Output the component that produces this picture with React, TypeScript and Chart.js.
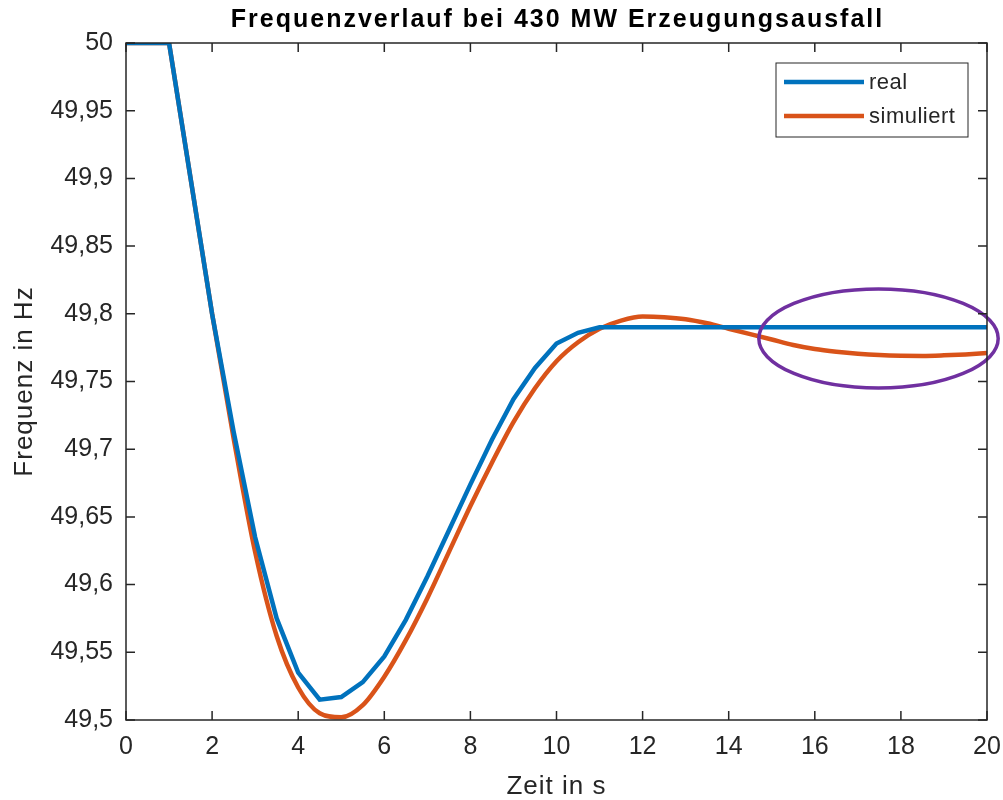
import React, { useEffect, useRef } from "react";
import { Chart, registerables } from "chart.js";

Chart.register(...registerables);

const TITLE = "Frequenzverlauf bei 430 MW Erzeugungsausfall";
const X_TITLE = "Zeit in s";
const Y_TITLE = "Frequenz in Hz";
const SERIES_NAMES = ["real", "simuliert"];

const timeReal = [0, 0.5, 1, 1.5, 2, 2.5, 3, 3.5, 4, 4.5, 5, 5.5, 6, 6.5, 7, 7.5, 8, 8.5, 9, 9.5, 10, 10.5, 11, 12, 13, 14, 15, 16, 17, 18, 19, 20];
const freqReal = [50, 50, 50, 49.9, 49.8, 49.713, 49.635, 49.575, 49.535, 49.515, 49.517, 49.528, 49.547, 49.574, 49.606, 49.64, 49.674, 49.707, 49.737, 49.76, 49.778, 49.786, 49.79, 49.79, 49.79, 49.79, 49.79, 49.79, 49.79, 49.79, 49.79, 49.79];

const timeSim = [0, 0.5, 1, 1.5, 2, 2.5, 3, 3.5, 4, 4.5, 5, 5.5, 6, 6.5, 7, 7.5, 8, 8.5, 9, 9.5, 10, 10.5, 11, 11.5, 12, 12.5, 13, 13.5, 14, 14.5, 15, 15.5, 16, 16.5, 17, 17.5, 18, 18.5, 19, 19.5, 20];
const freqSim = [50, 50, 50, 49.9, 49.8, 49.708, 49.624, 49.562, 49.524, 49.505, 49.502, 49.511, 49.532, 49.559, 49.59, 49.624, 49.658, 49.69, 49.72, 49.745, 49.765, 49.779, 49.789, 49.795, 49.798, 49.7975, 49.796, 49.793, 49.789, 49.785, 49.781, 49.777, 49.774, 49.772, 49.7705, 49.7695, 49.769, 49.7689, 49.7693, 49.77, 49.771];
// index where the simulated curve leaves the flat pre-fault section
const SIM_BREAK = 2;

const xTickValues = [0, 2, 4, 6, 8, 10, 12, 14, 16, 18, 20];
const xTickLabels = ["0", "2", "4", "6", "8", "10", "12", "14", "16", "18", "20"];
const yTickValues = [49.5, 49.55, 49.6, 49.65, 49.7, 49.75, 49.8, 49.85, 49.9, 49.95, 50];
const yTickLabels = ["49,5", "49,55", "49,6", "49,65", "49,7", "49,75", "49,8", "49,85", "49,9", "49,95", "50"];

// highlight ellipse in data units: center time, center freq, half-width (s), half-height (Hz)
const ellipseHighlight = [17.48, 49.7818, 2.78, 0.0366];

const FONT = "'Liberation Sans', Arial, Helvetica, sans-serif";
const TEXT = "#262626";
const BLUE = "#0072BD";
const ORANGE = "#D95319";
const PURPLE = "#7030A0";

function labelFor(values: number[], labels: string[], v: number) {
  for (let i = 0; i < values.length; i++) if (Math.abs(values[i] - v) < 1e-6) return labels[i];
  return "";
}

const matlabPlugin = {
  id: "matlabDecor",
  afterDraw(chart: any) {
    const ctx = chart.ctx;
    const { left, right, top, bottom } = chart.chartArea;
    const xs = chart.scales.x;
    const ys = chart.scales.y;
    ctx.save();
    // ellipse
    const [ct, cf, hw, hh] = ellipseHighlight;
    const cx = xs.getPixelForValue(ct);
    const cy = ys.getPixelForValue(cf);
    const rx = Math.abs(xs.getPixelForValue(ct + hw) - cx);
    const ry = Math.abs(ys.getPixelForValue(cf + hh) - cy);
    ctx.beginPath();
    ctx.ellipse(cx, cy, rx, ry, 0, 0, Math.PI * 2);
    ctx.strokeStyle = PURPLE;
    ctx.lineWidth = 3.5;
    ctx.stroke();

    // box
    ctx.strokeStyle = TEXT;
    ctx.lineWidth = 1.5;
    ctx.strokeRect(left, top, right - left, bottom - top);
    // ticks inward
    const tl = 9;
    ctx.beginPath();
    xTickValues.forEach((v) => {
      const px = xs.getPixelForValue(v);
      ctx.moveTo(px, bottom);
      ctx.lineTo(px, bottom - tl);
      ctx.moveTo(px, top);
      ctx.lineTo(px, top + tl);
    });
    yTickValues.forEach((v) => {
      const py = ys.getPixelForValue(v);
      ctx.moveTo(left, py);
      ctx.lineTo(left + tl, py);
      ctx.moveTo(right, py);
      ctx.lineTo(right - tl, py);
    });
    ctx.stroke();

    // title
    ctx.fillStyle = "#000";
    ctx.font = `bold 25px ${FONT}`;
    ctx.letterSpacing = "2px";
    ctx.textAlign = "center";
    ctx.textBaseline = "middle";
    ctx.fillText(TITLE, (left + right) / 2 + 1, 20);

    // axis titles
    ctx.fillStyle = TEXT;
    ctx.font = `26px ${FONT}`;
    ctx.letterSpacing = "1px";
    ctx.fillText(X_TITLE, (left + right) / 2, 787);
    ctx.save();
    ctx.translate(25, (top + bottom) / 2);
    ctx.rotate(-Math.PI / 2);
    ctx.fillText(Y_TITLE, 0, 0);
    ctx.restore();

    // legend
    const lx = 776, ly = 63, lw = 192, lh = 74;
    ctx.fillStyle = "#fff";
    ctx.fillRect(lx, ly, lw, lh);
    ctx.strokeStyle = TEXT;
    ctx.lineWidth = 1;
    ctx.strokeRect(lx, ly, lw, lh);
    const colors = [BLUE, ORANGE];
    const rowsY = [82, 116];
    ctx.font = `22px ${FONT}`;
    ctx.letterSpacing = "0.5px";
    ctx.textAlign = "left";
    ctx.textBaseline = "middle";
    SERIES_NAMES.forEach((name, i) => {
      ctx.strokeStyle = colors[i];
      ctx.lineWidth = 4.5;
      ctx.beginPath();
      ctx.moveTo(784, rowsY[i]);
      ctx.lineTo(864, rowsY[i]);
      ctx.stroke();
      ctx.fillStyle = TEXT;
      ctx.fillText(name, 869, rowsY[i] + 1);
    });
    ctx.letterSpacing = "0px";
    ctx.restore();
  },
};

export default function App() {
  const ref = useRef<HTMLCanvasElement | null>(null);
  useEffect(() => {
    if (!ref.current) return;
    const simPts = timeSim.map((t, i) => ({ x: t, y: freqSim[i] }));
    const chart = new Chart(ref.current, {
      type: "line",
      data: {
        datasets: [
          {
            label: SERIES_NAMES[0],
            data: timeReal.map((t, i) => ({ x: t, y: freqReal[i] })),
            borderColor: BLUE,
            borderWidth: 4.5,
            pointRadius: 0,
            tension: 0,
            borderJoinStyle: "miter",
          },
          {
            label: SERIES_NAMES[1],
            data: simPts.slice(0, SIM_BREAK + 1),
            borderColor: ORANGE,
            borderWidth: 4.5,
            pointRadius: 0,
            tension: 0,
          },
          {
            label: SERIES_NAMES[1],
            data: simPts.slice(SIM_BREAK),
            borderColor: ORANGE,
            borderWidth: 4.5,
            pointRadius: 0,
            cubicInterpolationMode: "monotone",
          },
        ],
      },
      options: {
        responsive: false,
        animation: false,
        layout: { padding: { top: 43, right: 16, left: 0, bottom: 0 } },
        plugins: { legend: { display: false }, title: { display: false }, tooltip: { enabled: false } },
        scales: {
          x: {
            type: "linear",
            min: 0,
            max: 20,
            grid: { display: false, drawTicks: false },
            border: { display: false },
            afterBuildTicks: (s: any) => {
              s.ticks = xTickValues.map((v) => ({ value: v }));
            },
            afterFit: (s: any) => {
              s.height = 80;
              s.paddingLeft = 0;
              s.paddingRight = 0;
            },
            ticks: {
              padding: 12,
              color: TEXT,
              font: { family: FONT, size: 25 },
              maxRotation: 0,
              autoSkip: false,
              callback: (v: any) => labelFor(xTickValues, xTickLabels, Number(v)),
            },
          },
          y: {
            type: "linear",
            min: 49.5,
            max: 50,
            grid: { display: false, drawTicks: false },
            border: { display: false },
            afterBuildTicks: (s: any) => {
              s.ticks = yTickValues.map((v) => ({ value: v }));
            },
            afterFit: (s: any) => {
              s.width = 126;
              s.paddingTop = 0;
              s.paddingBottom = 0;
            },
            ticks: {
              padding: 13,
              color: TEXT,
              font: { family: FONT, size: 25 },
              autoSkip: false,
              callback: (v: any) => labelFor(yTickValues, yTickLabels, Number(v)),
            },
          },
        },
      },
      plugins: [matlabPlugin],
    } as any);
    return () => chart.destroy();
  }, []);
  return (
    <div style={{ position: "absolute", left: 0, top: 0, width: 1003, height: 800, background: "#fff" }}>
      <canvas ref={ref} width={1003} height={800} />
    </div>
  );
}
